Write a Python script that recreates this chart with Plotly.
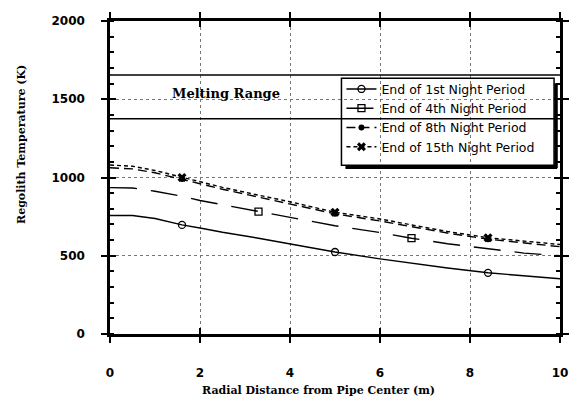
import plotly.graph_objects as go

# Radial distance from the pipe centre (m)
radius = [0, 0.5, 1.0, 1.6, 2.0, 2.5, 3.3, 4.0, 5.0, 6.0, 6.7, 7.5, 8.4, 9.2, 10.0]

# Regolith temperature (K) at the end of each night period
temp_night1 = [757, 757, 738, 697, 677, 650, 612, 575, 524, 480, 452, 422, 391, 370, 353]
temp_night4 = [935, 933, 912, 880, 853, 826, 782, 742, 692, 648, 612, 577, 544, 517, 500]
temp_night8 = [1062, 1055, 1030, 990, 960, 925, 874, 832, 768, 722, 686, 645, 606, 582, 558]
temp_night15 = [1080, 1072, 1045, 1000, 972, 937, 887, 845, 778, 735, 697, 655, 615, 593, 572]

# Radii at which symbols are drawn on each curve
marks_night1 = [1.6, 5.0, 8.4]
marks_night4 = [3.3, 6.7]
marks_night8 = [1.6, 5.0, 8.4]
marks_night15 = [1.6, 5.0, 8.4]

# Melting range of the regolith (K)
melt_low = 1375
melt_high = 1655

series_names = [
    "End of 1st Night Period",
    "End of 4th Night Period",
    "End of 8th Night Period",
    "End of 15th Night Period",
]

W, H = 581, 409
L, R, T, B = 110, 18, 17, 75
PW, PH = W - L - R, H - T - B


def px(x):
    return (x - L) / PW


def py(y):
    return 1 - (y - T) / PH


series = [
    (temp_night1, marks_night1, "solid", dict(symbol="circle-open", size=7, line=dict(width=1.3))),
    (temp_night4, marks_night4, "27px,14px", dict(symbol="square-open", size=7, line=dict(width=1.3))),
    (temp_night8, marks_night8, "9px,5px", dict(symbol="circle", size=6)),
    (temp_night15, marks_night15, "4px,3px", dict(symbol="x", size=8, line=dict(width=0))),
]

fig = go.Figure()

# melting range band edges
fig.add_trace(go.Scatter(
    x=[0, 10, None, 0, 10],
    y=[melt_high, melt_high, None, melt_low, melt_low],
    mode="lines", line=dict(color="black", width=1.4),
    showlegend=False, hoverinfo="skip", xaxis="x2", yaxis="y2",
))

for name, (temps, marks, dash, mk) in zip(series_names, series):
    fig.add_trace(go.Scatter(
        x=radius, y=temps, mode="lines",
        line=dict(color="black", width=1.4, dash=dash),
        showlegend=False, hoverinfo="skip",
    ))
    mx = [r for r in radius if r in marks]
    my = [t for r, t in zip(radius, temps) if r in marks]
    fig.add_trace(go.Scatter(
        x=mx, y=my, mode="markers",
        marker=dict(color="black", **mk),
        showlegend=False, hoverinfo="skip",
    ))
    # legend entry
    fig.add_trace(go.Scatter(
        x=[None], y=[None], mode="lines+markers", name=name,
        line=dict(color="black", width=1.4, dash=dash),
        marker=dict(color="black", **mk),
    ))

tick_font = dict(family="DejaVu Sans", size=12, color="black", weight="bold")
title_font = dict(family="DejaVu Serif", size=11, color="black", weight="bold")

fig.update_layout(
    width=W, height=H,
    margin=dict(l=L, r=R, t=T, b=B),
    paper_bgcolor="white", plot_bgcolor="white",
    showlegend=True,
    legend=dict(
        x=px(343), y=py(71), xanchor="left", yanchor="top",
        bgcolor="rgba(0,0,0,0)", borderwidth=0,
        font=dict(family="DejaVu Sans", size=12.5, color="black"),
        tracegroupgap=0,
    ),
    xaxis=dict(
        range=[0, 10], tickvals=[0, 2, 4, 6, 8, 10],
        ticks="outside", ticklen=6, tickwidth=2, tickcolor="black",
        showline=True, linewidth=2.5, linecolor="black", mirror="ticks",
        showgrid=True, gridcolor="#777", griddash="dot", gridwidth=1,
        zeroline=False, tickfont=tick_font, ticklabelstandoff=20,
    ),
    yaxis=dict(
        range=[0, 2000], tickvals=[0, 500, 1000, 1500, 2000],
        ticks="outside", ticklen=6, tickwidth=2, tickcolor="black",
        showline=True, linewidth=2.5, linecolor="black", mirror="ticks",
        showgrid=True, gridcolor="#777", griddash="dot", gridwidth=1,
        zeroline=False, tickfont=tick_font, ticklabelstandoff=14,
        minor=dict(dtick=100, ticks="inside", ticklen=4, tickwidth=1.5,
                   tickcolor="black", showgrid=False),
    ),
    xaxis2=dict(
        overlaying="x", matches="x", range=[0, 10], tickvals=[0, 2, 4, 6, 8, 10],
        ticks="inside", ticklen=6, tickwidth=2, tickcolor="black",
        mirror="ticks", showline=False, showgrid=False, zeroline=False,
        showticklabels=False,
    ),
    yaxis2=dict(
        overlaying="y", matches="y", range=[0, 2000], tickvals=[0, 500, 1000, 1500, 2000],
        ticks="inside", ticklen=6, tickwidth=2, tickcolor="black",
        mirror="ticks", showline=False, showgrid=False, zeroline=False,
        showticklabels=False,
    ),
    annotations=[
        dict(text="Melting Range", x=2.58, y=1535, xref="x", yref="y",
             showarrow=False, font=dict(family="DejaVu Serif", size=13, color="black", weight="bold")),
        dict(text="Radial Distance from Pipe Center (m)", x=px(320), y=py(391),
             xref="paper", yref="paper", xanchor="center", yanchor="middle",
             showarrow=False, font=title_font),
        dict(text="Regolith Temperature (K)", x=px(21), y=py(142), textangle=-90,
             xref="paper", yref="paper", xanchor="center", yanchor="middle",
             showarrow=False, font=title_font),
    ],
    shapes=[
        # legend frame with drop shadow
        dict(type="rect", xref="paper", yref="paper",
             x0=px(343), x1=px(557), y0=py(163), y1=py(75),
             line=dict(color="black", width=1.5), fillcolor="rgba(0,0,0,0)"),
        dict(type="line", xref="paper", yref="paper",
             x0=px(559), x1=px(559), y0=py(80), y1=py(166),
             line=dict(color="black", width=3.5)),
        dict(type="line", xref="paper", yref="paper",
             x0=px(347), x1=px(560), y0=py(165), y1=py(165),
             line=dict(color="black", width=3.5)),
    ],
)

fig.write_html("out.html")
